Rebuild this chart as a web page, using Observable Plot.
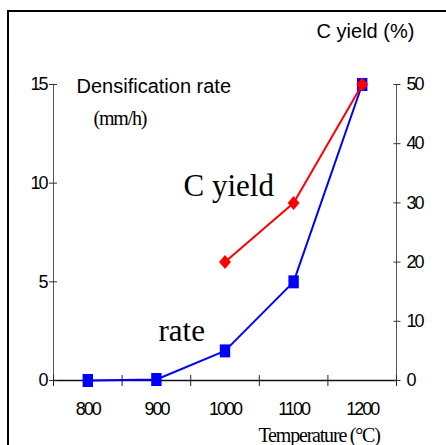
<!DOCTYPE html>
<html>
<head>
<meta charset="utf-8">
<script src="https://cdn.jsdelivr.net/npm/d3@7"></script>
<script src="https://cdn.jsdelivr.net/npm/@observablehq/plot@0.6"></script>
<style>
  html, body { margin: 0; padding: 0; background: #fff; }
  #wrap { position: relative; width: 446px; height: 445px; overflow: hidden; }
  #border { position: absolute; left: 7px; top: 10px; width: 600px; height: 600px;
            border-left: 2px solid #000; border-top: 2px solid #000; pointer-events: none; }
</style>
</head>
<body>
<div id="wrap"><div id="border"></div></div>
<script>
// ---- data ----
const temps = [800, 900, 1000, 1100, 1200];
const rate = [0, 0.05, 1.5, 5, 15];            // densification rate (mm/h)
const yieldTemps = [1000, 1100, 1200];
const cYield = [20, 30, 50];                   // C yield (%)
const rateTicks = [0, 5, 10, 15];
const yieldTicks = [0, 10, 20, 30, 40, 50];
const tempTicks = [800, 900, 1000, 1100, 1200];
const tempBounds = [750, 850, 950, 1050, 1150, 1250];
const rateMax = 15, yieldMax = 50;

const k = rateMax / yieldMax;
const rateData = temps.map((t, i) => ({t, v: rate[i]}));
const yieldData = yieldTemps.map((t, i) => ({t, v: cYield[i] * k}));

const rectSym = {draw(ctx, size) { const r = Math.sqrt(size / Math.PI); const hw = r * 0.8, hh = r; ctx.moveTo(-hw, -hh); ctx.lineTo(hw, -hh); ctx.lineTo(hw, hh); ctx.lineTo(-hw, hh); ctx.closePath(); }};
const diaSym = {draw(ctx, size) { const r = Math.sqrt(size / Math.PI); const hw = r * 0.85, hh = r; ctx.moveTo(0, -hh); ctx.lineTo(hw, 0); ctx.lineTo(0, hh); ctx.lineTo(-hw, 0); ctx.closePath(); }};

const sans = "'Liberation Sans', Arial, sans-serif";
const serif = "'Liberation Serif', 'Times New Roman', serif";
const tickStyle = {fontSize: 18, fontFamily: sans, fill: "#000"};
const txt = {frameAnchor: "top-left", lineAnchor: "middle", textAnchor: "start", fill: "#000"};

const chart = Plot.plot({
  width: 446, height: 445,
  marginLeft: 53, marginRight: 50, marginTop: 84, marginBottom: 65,
  style: {background: "transparent", fontFamily: sans, color: "#000", overflow: "visible"},
  x: {type: "linear", domain: [750, 1250], label: null},
  y: {domain: [0, rateMax], label: null},
  marks: [
    // axis lines
    Plot.ruleX([750, 1250], {y1: 0, y2: rateMax, stroke: "#555", strokeWidth: 1}),
    Plot.ruleY([0], {stroke: "#111", strokeWidth: 1.5}),
    // left axis ticks + labels
    Plot.axisY({anchor: "left", ticks: rateTicks, tickSize: 8, dx: 4, tickFormat: () => "", label: null, stroke: "#333"}),
    Plot.axisY({anchor: "left", ticks: rateTicks, tickSize: 0, tickPadding: 7, label: null, ...tickStyle}),
    // right axis ticks + labels
    Plot.axisY({anchor: "right", ticks: yieldTicks.map(v => v * k), tickSize: 7, dx: -3.5, tickFormat: () => "", label: null, stroke: "#333"}),
    Plot.axisY({anchor: "right", ticks: yieldTicks.map(v => v * k), tickSize: 0, tickPadding: 10, tickFormat: (d, i) => yieldTicks[i], label: null, ...tickStyle, textAnchor: "start"}),
    // bottom ticks + labels
    Plot.axisX({ticks: tempBounds, tickSize: 11, dy: -5, tickFormat: () => "", label: null, stroke: "#222"}),
    Plot.axisX({ticks: tempTicks, tickSize: 0, tickPadding: 22, tickFormat: d => String(d), label: null, ...tickStyle}),
    // rate series
    Plot.line(rateData, {x: "t", y: "v", stroke: "#0000ff", strokeWidth: 2}),
    Plot.dot(rateData, {x: "t", y: "v", symbol: rectSym, r: 6.5, fill: "#0000ff", stroke: "none"}),
    // yield series
    Plot.line(yieldData, {x: "t", y: "v", stroke: "#ff0000", strokeWidth: 2}),
    Plot.dot(yieldData, {x: "t", y: "v", symbol: diaSym, r: 7, fill: "#ff0000", stroke: "none"}),
    // texts
    Plot.text(["C yield (%)"], {...txt, dx: 312, dy: -53, textAnchor: "middle", fontSize: 20, fontFamily: sans}),
    Plot.text(["Densification rate"], {...txt, dx: 23, dy: 2, fontSize: 20, fontFamily: sans}),
    Plot.text(["(mm/h)"], {...txt, dx: 40, dy: 34.5, fontSize: 20, fontFamily: serif}),
    Plot.text(["C yield"], {...txt, dx: 130, dy: 101.5, fontSize: 31, fontFamily: serif}),
    Plot.text(["rate"], {...txt, dx: 105, dy: 246.5, fontSize: 31, fontFamily: serif}),
    Plot.text(["Temperature (°C)"], {...txt, dx: 205, dy: 351.5, fontSize: 20, fontFamily: serif})
  ]
});
// condensed lettering as in the original figure
d3.select(chart).selectAll("text").each(function() {
  const s = this.textContent;
  if (/^\d+$/.test(s)) this.setAttribute("letter-spacing", "-2px");
  else if (s === "Temperature (°C)") this.setAttribute("letter-spacing", "-1.2px");
  else if (s === "(mm/h)") this.setAttribute("letter-spacing", "-1.2px");
});
document.getElementById("wrap").prepend(chart);
</script>
</body>
</html>
